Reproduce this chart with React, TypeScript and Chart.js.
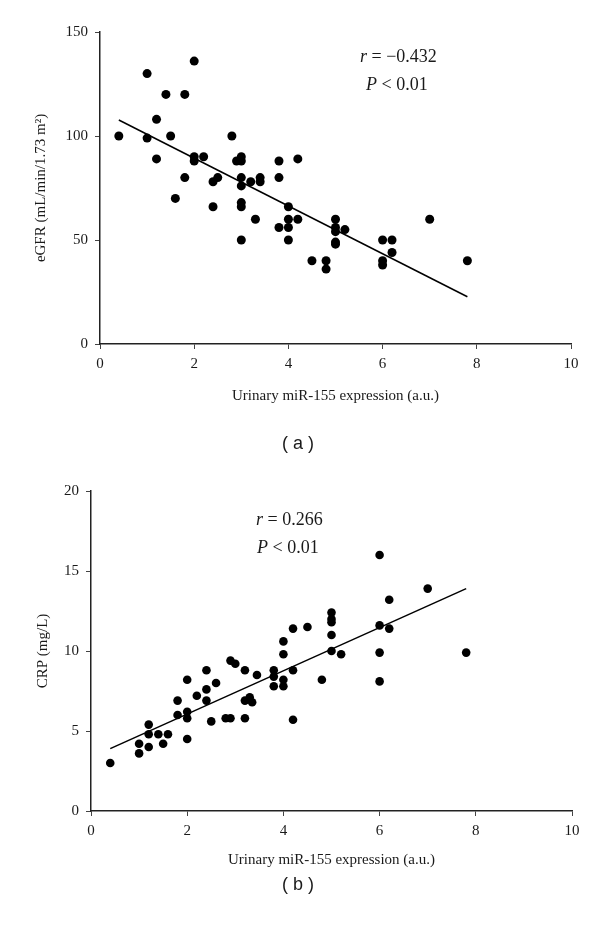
import React, { useEffect, useRef } from "react";
import { Chart, registerables } from "chart.js";
Chart.register(...registerables);

// Panel (a): urinary miR-155 expression vs eGFR
const exprA = [0.4, 1.0, 2.0, 1.4, 1.8, 1.2, 1.0, 1.5, 2.8, 1.2, 2.0, 2.0, 2.2, 3.0, 2.9, 3.0, 1.8, 2.4, 2.5, 3.0, 3.0, 3.2, 3.4, 3.4, 3.8, 4.2, 3.8, 1.6, 2.4, 3.0, 3.0, 3.3, 3.0, 4.0, 4.0, 4.2, 3.8, 4.0, 4.0, 5.0, 5.0, 5.0, 5.2, 5.0, 5.0, 4.5, 4.8, 4.8, 6.0, 6.2, 6.2, 6.0, 6.0, 7.0, 7.8];
const egfr = [100, 130, 136, 120, 120, 108, 99, 100, 100, 89, 90, 88, 90, 90, 88, 88, 80, 78, 80, 80, 76, 78, 80, 78, 88, 89, 80, 70, 66, 68, 66, 60, 50, 66, 60, 60, 56, 56, 50, 60, 56, 54, 55, 49, 48, 40, 40, 36, 50, 50, 44, 40, 38, 60, 40];
const fitAx = [0.4, 7.8];
const fitAy = [107.7, 22.7];

// Panel (b): urinary miR-155 expression vs CRP
const exprB = [0.4, 1.0, 1.0, 1.2, 1.2, 1.2, 1.4, 1.5, 1.6, 1.8, 1.8, 2.0, 2.0, 2.0, 2.0, 2.2, 2.4, 2.4, 2.4, 2.6, 2.5, 2.8, 2.9, 3.2, 2.9, 3.0, 3.2, 3.2, 3.3, 3.35, 3.45, 3.8, 3.8, 3.8, 4.0, 4.0, 4.2, 4.5, 4.0, 4.0, 4.2, 4.2, 4.8, 5.0, 5.0, 5.0, 5.0, 5.0, 5.2, 6.0, 6.2, 6.0, 6.0, 6.0, 6.2, 7.0, 7.8];
const crp = [3.0, 3.6, 4.2, 4.0, 4.8, 5.4, 4.8, 4.2, 4.8, 6.0, 6.9, 8.2, 6.2, 5.8, 4.5, 7.2, 8.8, 7.6, 6.9, 8.0, 5.6, 5.8, 5.8, 5.8, 9.4, 9.2, 8.8, 6.9, 7.1, 6.8, 8.5, 8.8, 8.4, 7.8, 10.6, 9.8, 11.4, 11.5, 8.2, 7.8, 8.8, 5.7, 8.2, 12.4, 12.0, 11.8, 11.0, 10.0, 9.8, 11.6, 11.4, 9.9, 8.1, 16.0, 13.2, 13.9, 9.9];
const fitBx = [0.4, 7.8];
const fitBy = [3.9, 13.9];

const xLabel = "Urinary miR-155 expression (a.u.)";
const yLabelA = "eGFR (mL/min/1.73 m\u00B2)";
const yLabelB = "CRP (mg/L)";
const statsA = [[{ t: "r", i: true }, { t: " = \u22120.432", i: false }], [{ t: "P", i: true }, { t: " < 0.01", i: false }]];
const statsB = [[{ t: "r", i: true }, { t: " = 0.266", i: false }], [{ t: "P", i: true }, { t: " < 0.01", i: false }]];

const SERIF = '"Liberation Serif", "Times New Roman", serif';
const INK = "#1a1a1a";

const annotPlugin = {
  id: "annot",
  afterDraw(chart: any, _args: any, opts: any) {
    const ctx = chart.ctx;
    ctx.save();
    ctx.fillStyle = INK;
    ctx.textBaseline = "middle";
    (opts.lines || []).forEach((line: any) => {
      let x = line.x;
      line.parts.forEach((p: any) => {
        ctx.font = `${p.i ? "italic " : ""}${opts.size}px ${SERIF}`;
        ctx.fillText(p.t, x, line.y);
        x += ctx.measureText(p.t).width;
      });
    });
    ctx.restore();
  },
};

function makeConfig(o: any) {
  const pts = o.xs.map((x: number, i: number) => ({ x, y: o.ys[i] }));
  const fit = o.fx.map((x: number, i: number) => ({ x, y: o.fy[i] }));
  return {
    type: "scatter",
    data: {
      datasets: [
        { data: fit, showLine: true, borderColor: "#000", borderWidth: 1.5, pointRadius: 0, fill: false },
        { data: pts, pointRadius: o.r, pointHoverRadius: o.r, backgroundColor: "#000", borderColor: "#000", borderWidth: 0 },
      ],
    },
    options: {
      responsive: false,
      animation: false,
      events: [],
      layout: { padding: { left: 0, right: o.padRight, top: o.padTop, bottom: 0 } },
      plugins: {
        legend: { display: false },
        tooltip: { enabled: false },
        annot: { size: 18, lines: o.annot },
      },
      scales: {
        x: {
          type: "linear",
          min: 0,
          max: 10,
          ticks: { stepSize: 2, padding: 6, color: INK, font: { family: SERIF, size: 15 } },
          grid: { drawOnChartArea: false, drawTicks: true, tickLength: 5, color: "#444", lineWidth: 1 },
          border: { display: true, color: "#222", width: 1.5 },
          title: { display: true, text: xLabel, color: INK, font: { family: SERIF, size: 15 }, padding: { top: 0, bottom: o.xTitlePad } },
          afterFit: (s: any) => { s.height = 76; },
        },
        y: {
          type: "linear",
          min: 0,
          max: o.ymax,
          ticks: { stepSize: o.ystep, padding: 7, color: INK, font: { family: SERIF, size: 15 } },
          grid: { drawOnChartArea: false, drawTicks: true, tickLength: 5, color: "#444", lineWidth: 1 },
          border: { display: true, color: "#222", width: 1.5 },
          title: { display: true, text: o.ylabel, color: INK, font: { family: SERIF, size: 15 }, padding: { top: o.yTitlePad, bottom: 0 } },
          afterFit: (s: any) => { s.width = o.yWidth; },
        },
      },
    },
    plugins: [annotPlugin],
  };
}

function Panel({ top, height, cfg }: any) {
  const ref = useRef<HTMLCanvasElement>(null);
  useEffect(() => {
    const c = new Chart(ref.current as any, makeConfig(cfg) as any);
    return () => c.destroy();
  }, []);
  return (
    <div style={{ position: "absolute", left: 0, top, width: 600, height }}>
      <canvas ref={ref} width={600} height={height} style={{ width: 600, height, display: "block" }} />
    </div>
  );
}

const capStyle: any = {
  position: "absolute",
  left: 0,
  width: 596,
  height: 22,
  lineHeight: "22px",
  textAlign: "center",
  fontFamily: '"Liberation Sans", Arial, sans-serif',
  fontSize: 18,
  color: INK,
};

export default function App() {
  return (
    <div style={{ position: "absolute", left: 0, top: 0, width: 600, height: 925, background: "#fff", overflow: "hidden" }}>
      <Panel
        top={0}
        height={420}
        cfg={{
          xs: exprA, ys: egfr, fx: fitAx, fy: fitAy, r: 4.5,
          ymax: 150, ystep: 50, ylabel: yLabelA,
          padTop: 32, padRight: 29, yWidth: 100, yTitlePad: 32, xTitlePad: 15,
          annot: [{ x: 360, y: 57, parts: statsA[0] }, { x: 366, y: 85, parts: statsA[1] }],
        }}
      />
      <Panel
        top={450}
        height={437}
        cfg={{
          xs: exprB, ys: crp, fx: fitBx, fy: fitBy, r: 4.3,
          ymax: 20, ystep: 5, ylabel: yLabelB,
          padTop: 41, padRight: 28, yWidth: 91, yTitlePad: 34, xTitlePad: 18,
          annot: [{ x: 256, y: 70, parts: statsB[0] }, { x: 257, y: 98, parts: statsB[1] }],
        }}
      />
      <div style={{ ...capStyle, top: 432 }}>( a )</div>
      <div style={{ ...capStyle, top: 873 }}>( b )</div>
    </div>
  );
}
